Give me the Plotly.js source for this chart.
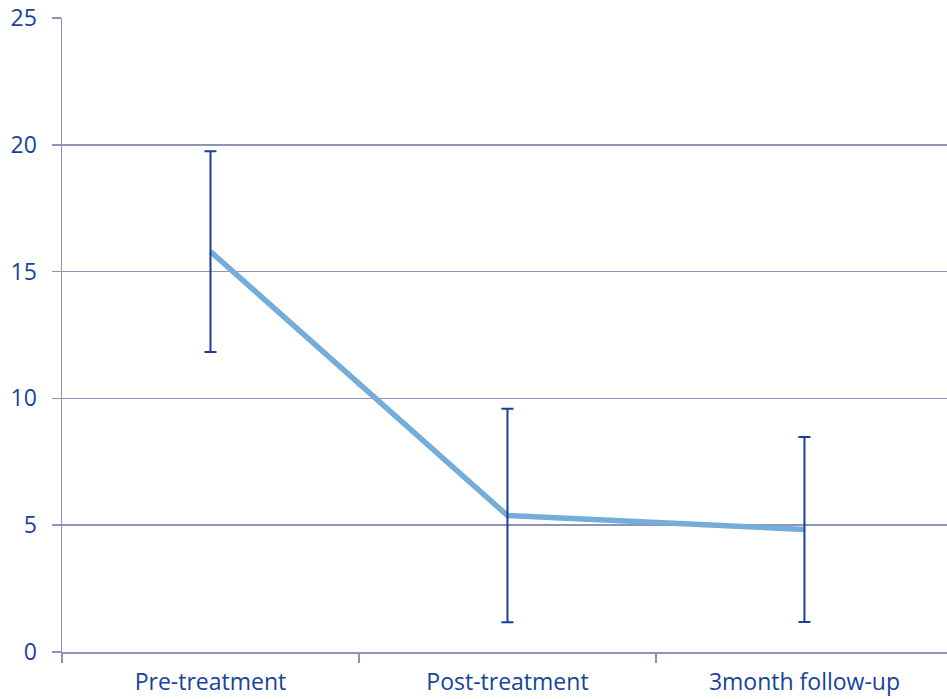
<!DOCTYPE html>
<html>
<head>
<meta charset="utf-8">
<script src="https://cdn.plot.ly/plotly-3.0.1.min.js"></script>
<style>html,body{margin:0;padding:0;background:#fff}#chart{width:947px;height:699px}</style>
</head>
<body>
<div id="chart"></div>
<script>
const categories = ["Pre-treatment", "Post-treatment", "3month follow-up"];
const means = [15.79, 5.38, 4.83];
const errors = [3.96, 4.21, 3.65];
const yTicks = [0, 5, 10, 15, 20, 25];

const gridColor = "#8E94B8";
const textColor = "#17449A";
const fontFam = "'Open Sans', Lato, sans-serif";

const traces = [
  {
    x: categories, y: means, type: "scatter", mode: "lines",
    line: {color: "#74ACDA", width: 5.5},
    hoverinfo: "skip", showlegend: false
  },
  {
    x: categories, y: means, type: "scatter", mode: "markers",
    marker: {size: 0.1, color: "rgba(0,0,0,0)"},
    error_y: {type: "data", array: errors, visible: true, color: "#1B3F96", thickness: 2, width: 6},
    hoverinfo: "skip", showlegend: false
  }
];

const layout = {
  width: 947, height: 699,
  margin: {l: 62, r: 0, t: 18, b: 47, pad: 0},
  paper_bgcolor: "#ffffff", plot_bgcolor: "#ffffff",
  font: {family: fontFam, size: 23, color: textColor},
  xaxis: {
    type: "category", range: [-0.5, 2.48],
    tickson: "boundaries", ticks: "outside", ticklen: 9, tickcolor: gridColor, tickwidth: 1.5,
    showgrid: false, showline: true, linecolor: gridColor, linewidth: 1.5,
    zeroline: false, fixedrange: true, ticklabelstandoff: 9,
    tickfont: {family: fontFam, size: 23, color: textColor}
  },
  yaxis: {
    range: [0, 25], tickvals: yTicks, ticktext: yTicks.map(String),
    ticks: "outside", ticklen: 9, tickcolor: gridColor, tickwidth: 1.5,
    showgrid: true, gridcolor: gridColor, gridwidth: 1.5,
    showline: true, linecolor: gridColor, linewidth: 1.5,
    zeroline: false, fixedrange: true, ticklabelstandoff: 10,
    tickfont: {family: fontFam, size: 23, color: textColor}
  }
};

Plotly.newPlot("chart", traces, layout, {displayModeBar: false, staticPlot: true});
</script>
</body>
</html>
